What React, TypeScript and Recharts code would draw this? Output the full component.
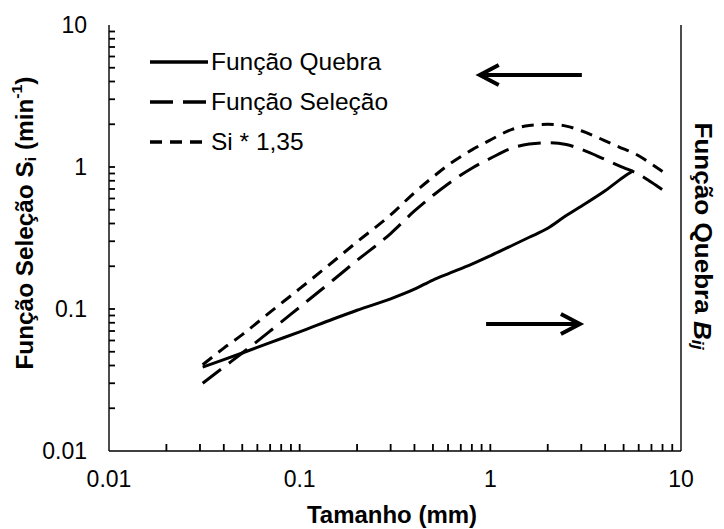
import React from 'react';
import { LineChart, Line, XAxis, YAxis, ReferenceLine, Legend } from 'recharts';

// ---- data ----
const tamanho = [0.031, 0.04, 0.05, 0.07, 0.1, 0.15, 0.2, 0.3, 0.4, 0.5, 0.6, 0.8, 1, 1.3, 1.6, 2, 2.5, 3, 4, 5, 5.6, 6, 7, 8];
const funcaoQuebra = [0.039, 0.044, 0.049, 0.058, 0.069, 0.085, 0.098, 0.118, 0.138, 0.16, 0.177, 0.207, 0.237, 0.28, 0.32, 0.37, 0.455, 0.53, 0.68, 0.85, 0.94, null, null, null];
const funcaoSelecao = [0.030, 0.039, 0.049, 0.070, 0.103, 0.16, 0.22, 0.34, 0.49, 0.63, 0.76, 0.98, 1.15, 1.36, 1.45, 1.48, 1.44, 1.33, 1.13, 0.99, 0.93, 0.89, 0.78, 0.69];
const si135 = [0.0405, 0.053, 0.066, 0.095, 0.139, 0.216, 0.297, 0.46, 0.66, 0.85, 1.03, 1.32, 1.55, 1.84, 1.96, 2.0, 1.94, 1.80, 1.53, 1.34, 1.26, 1.20, 1.05, 0.93];

const seriesNames = ['Função Quebra', 'Função Seleção', 'Si * 1,35'];

const axisTicks = [0.01, 0.02, 0.03, 0.04, 0.05, 0.06, 0.07, 0.08, 0.09, 0.1, 0.2, 0.3, 0.4, 0.5, 0.6, 0.7, 0.8, 0.9, 1, 2, 3, 4, 5, 6, 7, 8, 9, 10];
const tickLabels = [0.01, 0.1, 1, 10];

// arrows (data coordinates)
const arrowLeft = [{ x: 3.02, y: 4.45 }, { x: 0.88, y: 4.45 }];
const arrowRight = [{ x: 0.95, y: 0.0784 }, { x: 2.95, y: 0.0784 }];

const data = tamanho.map((t, i) => ({
  tamanho: t,
  quebra: funcaoQuebra[i],
  selecao: funcaoSelecao[i],
  si: si135[i],
}));

const FONT = '"Liberation Sans", Arial, sans-serif';
const dashes: Record<string, string | undefined> = {
  'Função Quebra': undefined,
  'Função Seleção': '23 10',
  'Si * 1,35': '12 8',
};

const XTick = (props: any) => {
  const { x, y, payload } = props;
  const v = payload.value;
  const edge = v <= 0.01 || v >= 10;
  return (
    <g>
      {!edge && <rect x={x - 0.9} y={y - 7} width={1.8} height={7} fill="#000" />}
      {tickLabels.includes(v) && (
        <text x={x} y={y + 28} textAnchor="middle" dominantBaseline="central" fontFamily={FONT} fontSize={23} fill="#000" stroke="none">
          {String(v)}
        </text>
      )}
    </g>
  );
};

const YTick = (props: any) => {
  const { x, y, payload } = props;
  const v = payload.value;
  const edge = v <= 0.01 || v >= 10;
  return (
    <g>
      {!edge && <rect x={x} y={y - 0.9} width={6} height={1.8} fill="#000" />}
      {tickLabels.includes(v) && (
        <text x={x - 22} y={y} textAnchor="end" dominantBaseline="central" fontFamily={FONT} fontSize={23} fill="#000" stroke="none">
          {String(v)}
        </text>
      )}
    </g>
  );
};

const ArrowShape = (props: any) => {
  const { x1, y1, x2, y2 } = props;
  const ang = Math.atan2(y2 - y1, x2 - x1);
  const back = 19;
  const side = 10;
  const bx = x2 - back * Math.cos(ang);
  const by = y2 - back * Math.sin(ang);
  const px = -Math.sin(ang) * side;
  const py = Math.cos(ang) * side;
  return (
    <g>
      <line x1={x1} y1={y1} x2={x2} y2={y2} stroke="#000" strokeWidth={4} />
      <polyline
        points={`${bx + px},${by + py} ${x2},${y2} ${bx - px},${by - py}`}
        fill="none"
        stroke="#000"
        strokeWidth={4}
        strokeLinejoin="miter"
      />
    </g>
  );
};

const LegendContent = (props: any) => {
  const { payload } = props;
  return (
    <div style={{ fontFamily: FONT, fontSize: 24.5, color: '#000' }}>
      {(payload || []).map((e: any) => (
        <div key={e.value} style={{ display: 'flex', alignItems: 'center', height: 40 }}>
          <svg width={58} height={10} style={{ display: 'block' }}>
            <line x1={0} x2={58} y1={5} y2={5} stroke="#000" strokeWidth={3.5} strokeDasharray={dashes[e.value]} />
          </svg>
          <span style={{ marginLeft: 3, whiteSpace: 'nowrap' }}>{e.value}</span>
        </div>
      ))}
    </div>
  );
};

const LeftTitle = () => {
  const cx = 25;
  const cy = 223;
  return (
    <text
      x={cx}
      y={cy}
      transform={`rotate(-90 ${cx} ${cy})`}
      textAnchor="middle"
      dominantBaseline="central"
      fontFamily={FONT}
      fontSize={23}
      fontWeight="bold"
      fill="#000"
      textLength={293}
      lengthAdjust="spacingAndGlyphs"
    >
      Função Seleção S<tspan fontSize={15} dy={5}>i</tspan><tspan dy={-5}> (min</tspan><tspan fontSize={15} dy={-9}>-1</tspan><tspan dy={9}>)</tspan>
    </text>
  );
};

const RightTitle = () => {
  const cx = 703;
  const cy = 236;
  return (
    <text
      x={cx}
      y={cy}
      transform={`rotate(90 ${cx} ${cy})`}
      textAnchor="middle"
      dominantBaseline="central"
      fontFamily={FONT}
      fontSize={24}
      fontWeight="bold"
      fill="#000"
      textLength={227}
      lengthAdjust="spacingAndGlyphs"
    >
      Função Quebra <tspan fontStyle="italic">B</tspan><tspan fontStyle="italic" fontSize={16} dy={5}>ij</tspan>
    </text>
  );
};

const BottomTitle = () => (
  <text
    x={392}
    y={514}
    textAnchor="middle"
    dominantBaseline="central"
    fontFamily={FONT}
    fontSize={24}
    fontWeight="bold"
    fill="#000"
    textLength={170}
    lengthAdjust="spacingAndGlyphs"
  >
    Tamanho (mm)
  </text>
);

export default function App() {
  return (
    <div style={{ position: 'absolute', left: 0, top: 0, width: 724, height: 529, background: '#fff' }}>
      <LineChart width={724} height={529} data={data} margin={{ top: 25, right: 0, bottom: 0, left: 0 }}>
        <XAxis
          xAxisId="bottom"
          dataKey="tamanho"
          type="number"
          scale="log"
          domain={[0.01, 10]}
          allowDataOverflow
          ticks={axisTicks}
          interval={0}
          minTickGap={0}
          tickSize={0}
          tickMargin={0}
          tickLine={false}
          axisLine={{ stroke: '#000', strokeWidth: 1.4 }}
          tick={<XTick />}
          height={78}
          label={<BottomTitle />}
        />
        <XAxis
          xAxisId="top"
          orientation="top"
          dataKey="tamanho"
          type="number"
          scale="log"
          domain={[0.01, 10]}
          allowDataOverflow
          tick={false}
          tickLine={false}
          axisLine={{ stroke: '#000', strokeWidth: 1.4 }}
          height={0}
        />
        <YAxis
          yAxisId="left"
          type="number"
          scale="log"
          domain={[0.01, 10]}
          allowDataOverflow
          ticks={axisTicks}
          interval={0}
          minTickGap={0}
          tickSize={0}
          tickMargin={0}
          tickLine={false}
          axisLine={{ stroke: '#000', strokeWidth: 1.4 }}
          tick={<YTick />}
          width={109}
          label={<LeftTitle />}
        />
        <YAxis
          yAxisId="right"
          orientation="right"
          type="number"
          scale="log"
          domain={[0.01, 10]}
          allowDataOverflow
          tick={false}
          tickLine={false}
          axisLine={{ stroke: '#000', strokeWidth: 1.4 }}
          width={43}
          label={<RightTitle />}
        />
        <Legend
          layout="vertical"
          align="center"
          verticalAlign="middle"
          content={<LegendContent />}
          wrapperStyle={{ position: 'absolute', left: 150, top: 42, width: 330, height: 120 }}
        />
        <Line xAxisId="bottom" yAxisId="left" name={seriesNames[0]} dataKey="quebra" type="monotone" stroke="#000" strokeWidth={3} dot={false} isAnimationActive={false} />
        <Line xAxisId="bottom" yAxisId="left" name={seriesNames[1]} dataKey="selecao" type="monotone" stroke="#000" strokeWidth={3} strokeDasharray="23 10" dot={false} isAnimationActive={false} />
        <Line xAxisId="bottom" yAxisId="left" name={seriesNames[2]} dataKey="si" type="monotone" stroke="#000" strokeWidth={3} strokeDasharray="12 8" dot={false} isAnimationActive={false} />
        <ReferenceLine xAxisId="bottom" yAxisId="left" segment={arrowLeft} shape={<ArrowShape />} />
        <ReferenceLine xAxisId="bottom" yAxisId="left" segment={arrowRight} shape={<ArrowShape />} />
      </LineChart>
    </div>
  );
}
